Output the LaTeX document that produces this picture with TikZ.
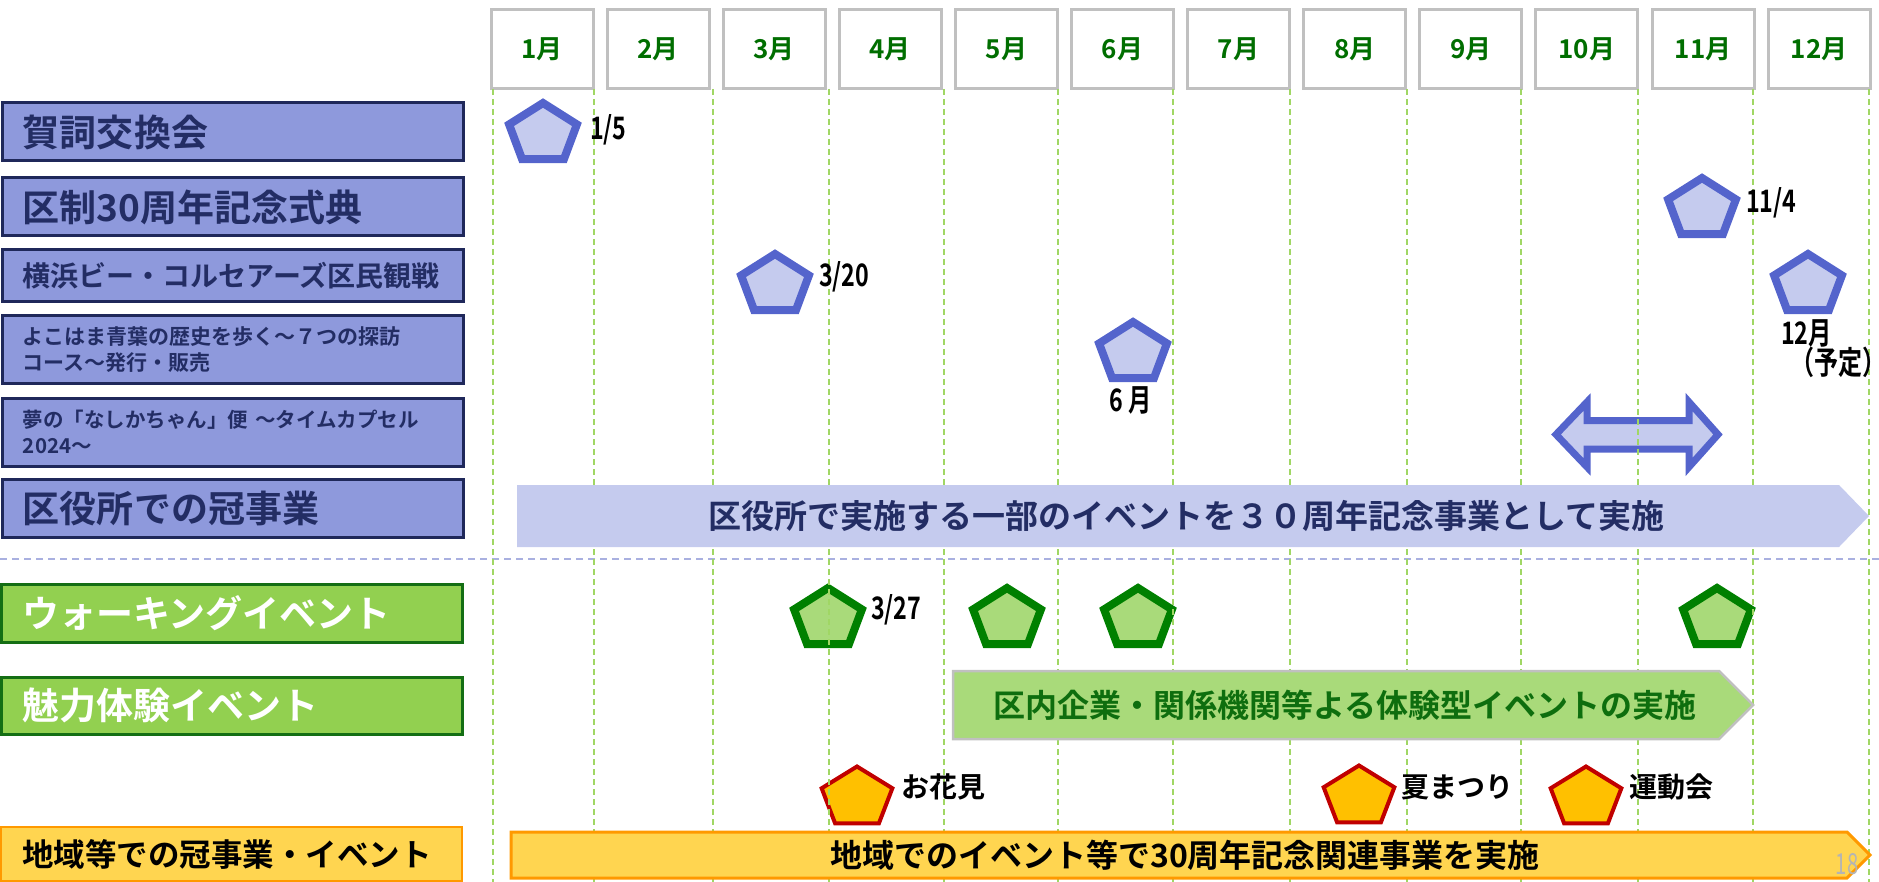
\documentclass[tikz,border=0pt]{standalone}
\usepackage{fontspec}
\setmainfont{Noto Sans CJK JP}
\newfontfamily\jb{Noto Sans CJK JP Bold}
\newfontfamily\jbn[FakeStretch=0.75]{Noto Sans CJK JP Bold}
\newfontfamily\jrn[FakeStretch=0.7]{Noto Sans CJK JP}
\usetikzlibrary{shapes.geometric}
\definecolor{lblue}{RGB}{142,153,220}
\definecolor{navy}{RGB}{31,40,90}
\definecolor{navytext}{RGB}{35,45,100}
\definecolor{lav}{RGB}{197,203,238}
\definecolor{pblue}{RGB}{84,100,204}
\definecolor{lgreen}{RGB}{146,208,80}
\definecolor{dgreen}{RGB}{20,110,20}
\definecolor{pgreen}{RGB}{169,218,122}
\definecolor{sgreen}{RGB}{0,128,0}
\definecolor{tgreen}{RGB}{14,110,14}
\definecolor{gold}{RGB}{255,213,80}
\definecolor{orng}{RGB}{255,153,0}
\definecolor{amber}{RGB}{255,192,0}
\definecolor{dred}{RGB}{192,0,0}
\definecolor{mgreen}{RGB}{0,110,0}
\definecolor{vline}{RGB}{160,215,100}
\definecolor{hline}{RGB}{169,176,224}
\definecolor{mgray}{RGB}{192,192,192}
\definecolor{pgnum}{RGB}{180,180,180}
\begin{document}
\begin{tikzpicture}[x=1pt,y=-1pt,
  mbox/.style={draw=mgray,line width=3pt,fill=white,minimum width=102pt,minimum height=79pt,inner sep=0pt,text=mgreen,font=\jb\fontsize{26}{28}\selectfont},
  lbl/.style={draw=navy,line width=3pt,fill=lblue,text=navytext,text width=419pt,align=left,inner xsep=21pt,inner ysep=0pt,font=\jb},
  glbl/.style={draw=dgreen,line width=3pt,fill=lgreen,text=white,text width=419pt,align=left,inner xsep=21pt,inner ysep=0pt,font=\jb\fontsize{37}{40}\selectfont},
  ylbl/.style={draw=orng,line width=2.5pt,fill=gold,text=black,text width=419pt,align=left,inner xsep=21pt,inner ysep=0pt,font=\jb\fontsize{31.5}{34}\selectfont},
  pent/.style={regular polygon,regular polygon sides=5,inner sep=0pt,transform shape,line join=miter},
  bpent/.style={pent,minimum size=62pt,xscale=1.15,draw=pblue,fill=lav,line width=8pt},
  gpent/.style={pent,minimum size=62pt,xscale=1.15,draw=sgreen,fill=pgreen,line width=8pt},
  ypent/.style={pent,minimum size=63pt,xscale=1.18,draw=dred,fill=amber,line width=4pt},
  dlab/.style={inner sep=0pt,text=black,font=\jbn\fontsize{31}{33}\selectfont},
  elab/.style={inner sep=0pt,text=black,font=\jb\fontsize{28}{30}\selectfont},
  vdash/.style={draw=vline,line width=1.3pt,dash pattern=on 6pt off 4pt},
  bartext/.style={inner sep=0pt,font=\jb\fontsize{32}{34}\selectfont}
]
\useasboundingbox (0,0) rectangle (1879,882);

% month header
\foreach \i in {1,...,12}
  \node[mbox] (m\i) at ({542+116.1*(\i-1)},49) {{\i}月};

% left labels
\node[lbl,minimum height=58pt,font=\jb\fontsize{37}{40}\selectfont] (l1) at (232.5,132) {賀詞交換会};
\node[lbl,minimum height=58pt,font=\jb\fontsize{37}{40}\selectfont] (l2) at (232.5,207) {区制30周年記念式典};
\node[lbl,minimum height=52pt,font=\jb\fontsize{28}{30}\selectfont] (l3) at (232.5,276) {横浜ビー・コルセアーズ区民観戦};
\node[lbl,minimum height=68pt,font=\jb\fontsize{21}{26}\selectfont] (l4) at (232.5,350) {よこはま青葉の歴史を歩く～７つの探訪\\コース～発行・販売};
\node[lbl,minimum height=68pt,font=\jb\fontsize{20.5}{26}\selectfont] (l5) at (232.5,432) {夢の「なしかちゃん」便 ～タイムカプセル\\2024～};
\node[lbl,minimum height=58pt,font=\jb\fontsize{37}{40}\selectfont] (l6) at (232.5,508) {区役所での冠事業};
\node[glbl,minimum height=58pt] (l7) at (231.5,613) {ウォーキングイベント};
\node[glbl,minimum height=57pt] (l8) at (231.5,705.5) {魅力体験イベント};
\node[ylbl,minimum height=54pt] (l9) at (231.5,854) {地域等での冠事業・イベント};

% horizontal separator
\draw[draw=hline,line width=2pt,dash pattern=on 7pt off 5pt] (0,559) -- (1879,559);

% blue pentagons
\node[bpent] (p1) at (543,134) {};
\node[bpent] (p2) at (1702,209) {};
\node[bpent] (p3) at (775,285) {};
\node[bpent] (p4) at (1808,285) {};
\node[bpent] (p5) at (1133,353) {};
% green pentagons
\node[gpent] (g1) at (828,619) {};
\node[gpent] (g2) at (1007,619) {};
\node[gpent] (g3) at (1138,619) {};
\node[gpent] (g4) at (1717,619) {};
% yellow pentagons
\node[ypent] (y1) at (857,798) {};
\node[ypent] (y2) at (1359,797) {};
\node[ypent] (y3) at (1586,798) {};

% double arrow
\draw[draw=pblue,fill=lav,line width=7pt,line join=miter]
  (1556,434.5) -- (1587,402) -- (1587,420.5) -- (1689,420.5) -- (1689,402) -- (1718,434.5)
  -- (1689,467) -- (1689,449) -- (1587,449) -- (1587,467) -- cycle;

% vertical dashed grid
\foreach \x in {493,594,713,829,944,1058,1173,1290,1407,1521,1638,1753,1869}
  \draw[vdash] (\x,89) -- (\x,882);

% big bars
\fill[lav] (517,485) -- (1839,485) -- (1869,516) -- (1839,547) -- (517,547) -- cycle;
\node[bartext,text=navytext,font=\jb\fontsize{33}{35}\selectfont] (ta) at (1186,516) {区役所で実施する一部のイベントを３０周年記念事業として実施};
\draw[draw=mgray,line width=2.5pt,fill=pgreen] (953,671) -- (1719,671) -- (1753,705) -- (1719,739) -- (953,739) -- cycle;
\node[bartext,text=tgreen] (tb) at (1345,705) {区内企業・関係機関等よる体験型イベントの実施};
\draw[draw=orng,line width=3pt,fill=gold] (511,832) -- (1847,832) -- (1870,855) -- (1847,878) -- (511,878) -- cycle;
\node[bartext,text=black] (tc) at (1185,855) {地域でのイベント等で30周年記念関連事業を実施};

% date labels
\node[dlab,anchor=west] (d1) at (590,130) {1/5};
\node[dlab,anchor=west] (d2) at (1746,203) {11/4};
\node[dlab,anchor=west] (d3) at (819,277) {3/20};
\node[dlab,anchor=west] (d4) at (871,610) {3/27};
\node[dlab] (d5) at (1131,400) {6 月};
\node[dlab,anchor=west] (d6) at (1781,333) {12月};
\node[dlab,anchor=west,font=\jbn\fontsize{32}{34}\selectfont] (d7) at (1790,362) {（予定）};
\node[elab,anchor=west] (e1) at (901,787) {お花見};
\node[elab,anchor=west] (e2) at (1401,787) {夏まつり};
\node[elab,anchor=west] (e3) at (1629,787) {運動会};

% page number
\node[inner sep=0pt,text=pgnum,font=\jrn\fontsize{29}{30}\selectfont] (pg) at (1847,864) {18};
\end{tikzpicture}
\end{document}
